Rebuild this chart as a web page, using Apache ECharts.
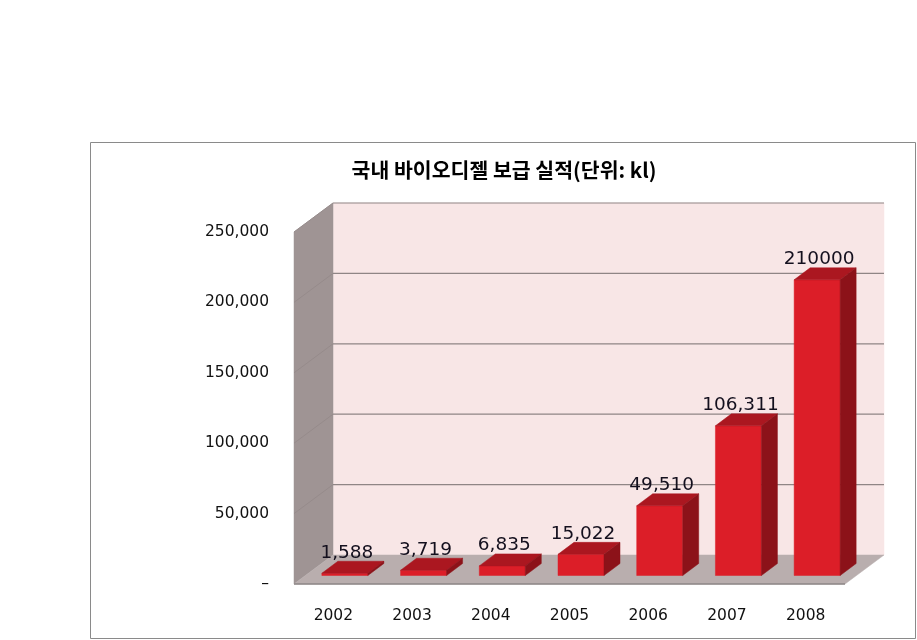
<!DOCTYPE html>
<html>
<head>
<meta charset="utf-8">
<style>html,body{margin:0;padding:0;background:#fff}#c{width:917px;height:640px}</style>
<script src="https://cdn.jsdelivr.net/npm/echarts@6/dist/echarts.min.js"></script>
</head>
<body>
<div id="c"></div>
<script>
const titleText = '국내 바이오디젤 보급 실적(단위: kl)';
const categories = ['2002','2003','2004','2005','2006','2007','2008'];
const values = [1588,3719,6835,15022,49510,106311,210000];
const valueLabels = ['1,588','3,719','6,835','15,022','49,510','106,311','210000'];
const yTicks = [0,50000,100000,150000,200000,250000];

const FONT = '"DejaVu Sans", sans-serif';
const WALL_DX = 39, WALL_DY = 29;
const BAR_DX = 16, BAR_DY = 12;
const BAR_OFF_X = 11.5, BAR_OFF_Y = 8.5;
const BAR_W = 46;

function poly(points, fill, stroke) {
  return { type:'polygon', shape:{points}, style:{fill, stroke: stroke||fill, lineWidth: stroke?1:0.5} };
}

function renderWall(params, api) {
  const cs = params.coordSys;
  const tick = api.value(1);
  const y = api.coord([0, tick])[1];
  const L = cs.x, R = cs.x + cs.width, T = cs.y, B = cs.y + cs.height;
  const children = [];
  if (params.dataIndex === 0) {
    children.push(poly([[L+WALL_DX,T-WALL_DY],[R+WALL_DX,T-WALL_DY],[R+WALL_DX,B-WALL_DY],[L+WALL_DX,B-WALL_DY]], '#f8e6e6'));
    children.push(poly([[L,T],[L+WALL_DX,T-WALL_DY],[L+WALL_DX,B-WALL_DY],[L,B]], '#9f9494'));
    children.push(poly([[L,B],[L+WALL_DX,B-WALL_DY],[R+WALL_DX,B-WALL_DY],[R,B]], '#b9aeae'));
    children.push({type:'line', shape:{x1:L,y1:B,x2:R,y2:B}, style:{stroke:'#8c8686',lineWidth:1.5}});
    return {type:'group', children};
  }
  children.push({type:'line', shape:{x1:L,y1:y,x2:L+WALL_DX,y2:y-WALL_DY}, style:{stroke:'#968b8b',lineWidth:1}});
  children.push({type:'line', shape:{x1:L+WALL_DX,y1:y-WALL_DY,x2:R+WALL_DX,y2:y-WALL_DY}, style:{stroke:'#8f8585',lineWidth:1.2}});
  return {type:'group', children};
}

function renderBar(params, api) {
  const top = api.coord([api.value(0), api.value(1)]);
  const base = api.coord([api.value(0), 0]);
  const x0 = top[0] + BAR_OFF_X - BAR_W/2, x1 = x0 + BAR_W;
  const yT = top[1] - BAR_OFF_Y, yB = base[1] - BAR_OFF_Y;
  return {type:'group', children:[
    poly([[x0,yT],[x1,yT],[x1,yB],[x0,yB]], '#dc1e28'),
    poly([[x0,yT],[x0+BAR_DX,yT-BAR_DY],[x1+BAR_DX,yT-BAR_DY],[x1,yT]], '#ab1720'),
    poly([[x1,yT],[x1+BAR_DX,yT-BAR_DY],[x1+BAR_DX,yB-BAR_DY],[x1,yB]], '#8c1219'),
    {type:'text', x:x0+BAR_W/2+2, y:yT-BAR_DY-8.5, style:{
      text:valueLabels[params.dataIndex], fill:'#14101e', font:'18.5px '+FONT, textAlign:'center', textVerticalAlign:'middle'}}
  ]};
}

const chart = echarts.init(document.getElementById('c'), null, {renderer:'canvas'});
chart.setOption({
  animation:false,
  backgroundColor:'#fff',
  title:{text:titleText, left:499, top:155, textAlign:'center',
    textStyle:{fontFamily:'"Noto Sans CJK KR"', fontSize:20.5, fontWeight:'bold', color:'#000'}},
  graphic:[{type:'rect', shape:{x:90.5,y:142.5,width:825,height:496}, style:{fill:'none',stroke:'#8a8a8a',lineWidth:1}, z:-1}],
  grid:{left:294, right:72, top:232, bottom:56},
  xAxis:{type:'category', data:categories, axisLine:{show:false}, axisTick:{show:false},
    axisLabel:{margin:24, color:'#111', fontFamily:FONT, fontSize:15.5}},
  yAxis:{type:'value', min:0, max:250000, interval:50000, axisLine:{show:false}, axisTick:{show:false}, splitLine:{show:false},
    axisLabel:{margin:25, color:'#111', fontFamily:FONT, fontSize:15.5, padding:[5,0,0,0],
      formatter:v=> v===0 ? '–' : v.toLocaleString('en-US')}},
  series:[
    {type:'custom', silent:true, clip:false, z:1, renderItem:renderWall, encode:{x:0,y:1},
      data:[[0,0]].concat(yTicks.slice(1).map(t=>[0,t]))},
    {type:'custom', silent:true, clip:false, z:2, renderItem:renderBar, encode:{x:0,y:1},
      data:values.map((v,i)=>[i,v])}
  ]
});
</script>
</body>
</html>
